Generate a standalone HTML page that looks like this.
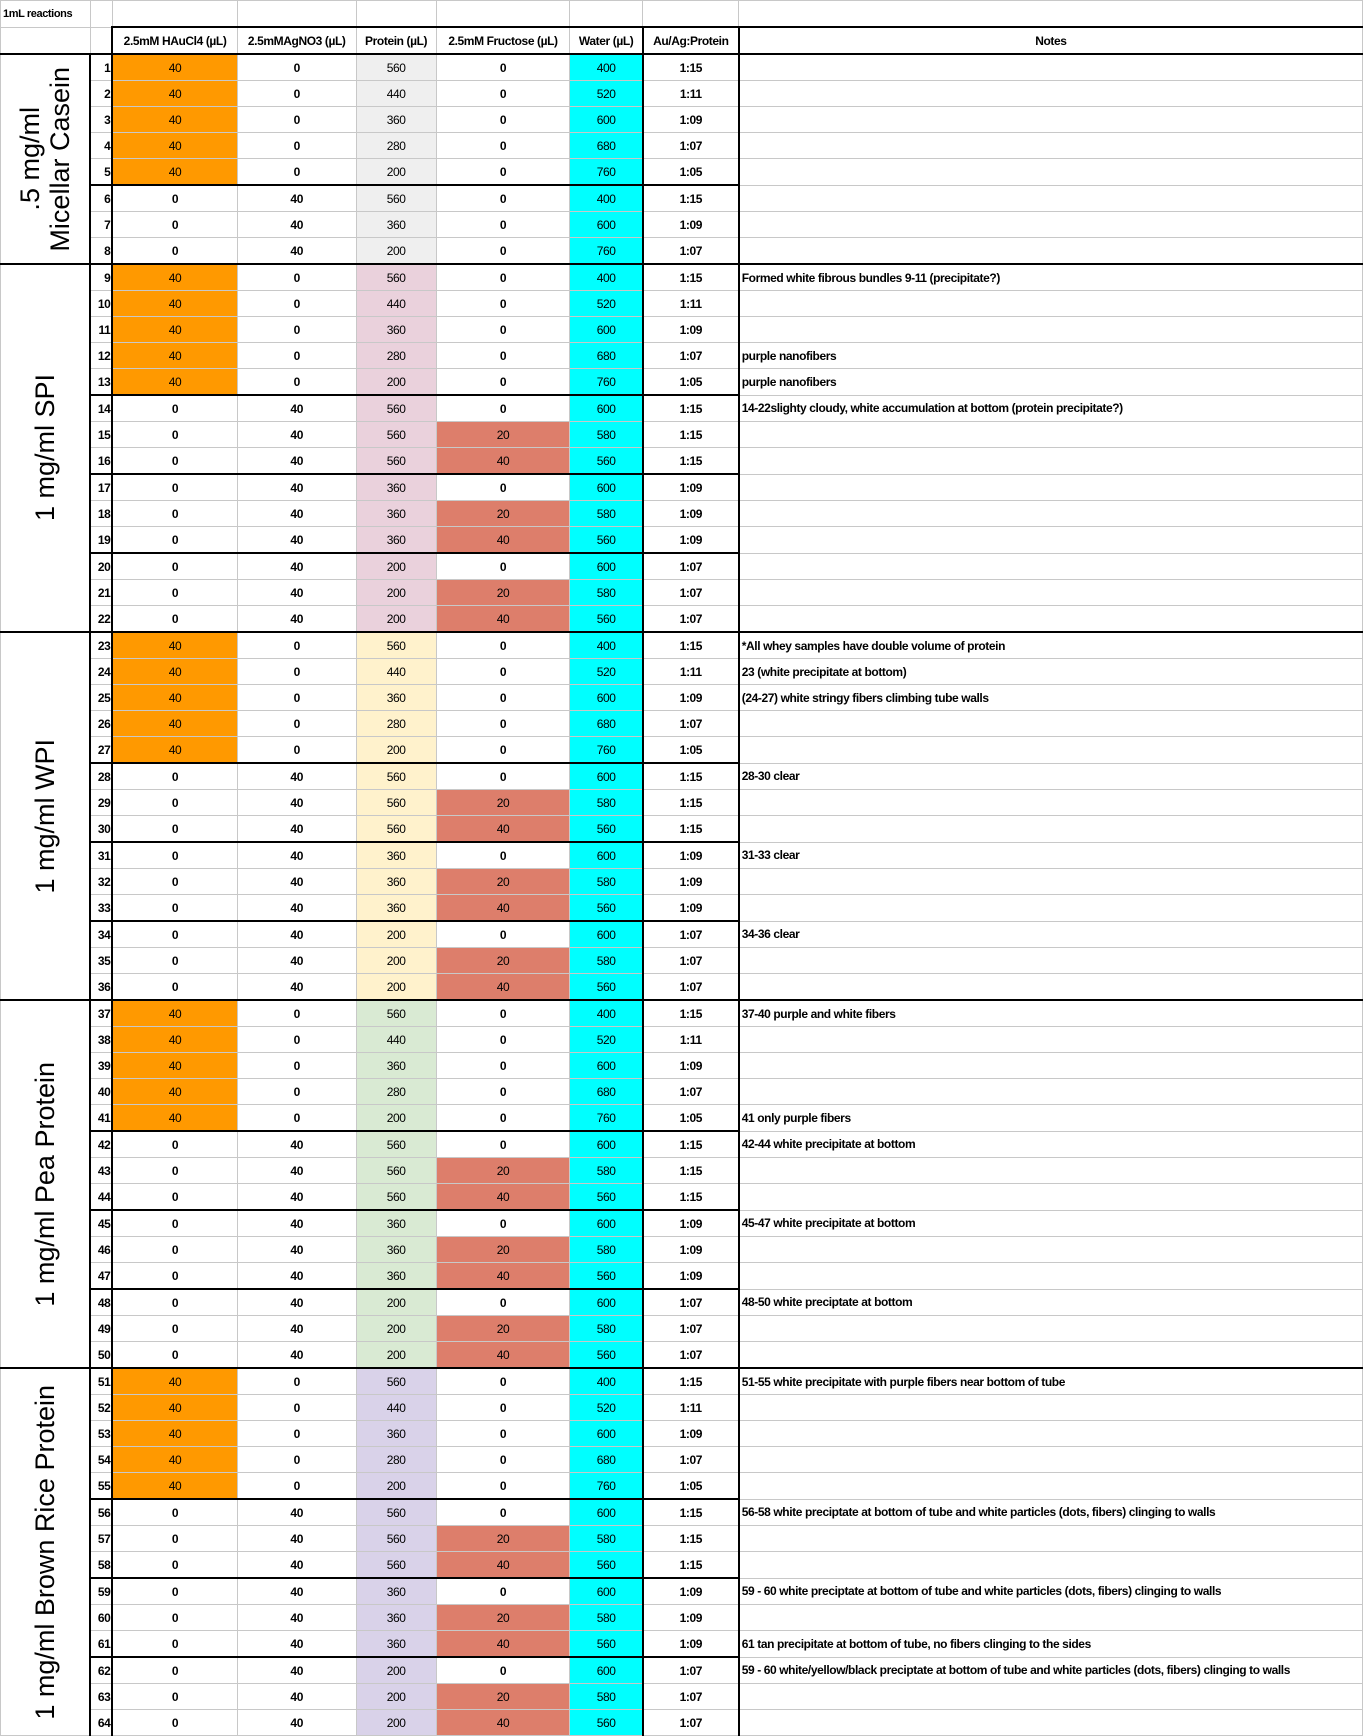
<!DOCTYPE html>
<html><head><meta charset="utf-8"><style>
body{margin:0;background:#fff;width:1363px;height:1718px;overflow:hidden}
table{border-collapse:collapse;table-layout:fixed;font-family:"Liberation Sans",Arial,sans-serif;font-size:12px;font-weight:bold;letter-spacing:-0.4px;color:#000}
td{border:1px solid #c8c8c8;height:25px;padding:0;text-align:center;white-space:nowrap;overflow:hidden}
td.n{text-align:right;padding-right:1px;border-right:2px solid #000}
td.r{border-right:2px solid #000}
td.w{border-right:2px solid #000}
td.t{text-align:left;padding-left:2px}
.o{background:#ff9900;font-weight:normal}
.c{background:#00ffff;font-weight:normal}
.f{background:#dd7e6b;font-weight:normal}
.rg{font-weight:normal}
.p1{background:#efefef;font-weight:normal}.p2{background:#ead1dc;font-weight:normal}.p3{background:#fff2cc;font-weight:normal}.p4{background:#d9ead3;font-weight:normal}.p5{background:#d9d2e9;font-weight:normal}
tr.s td:not(.t):not(.L){border-top:2px solid #000}
tr.g td{border-top:2px solid #000}
td.L{border-right:2px solid #000;vertical-align:middle;font-weight:normal;font-size:27px;letter-spacing:0}
td.L div{writing-mode:vertical-rl;transform:rotate(180deg);margin:auto;line-height:30px;white-space:nowrap}
tr.h td{height:25px}
tr.hd td{border-bottom:2px solid #000}
</style></head><body>
<table>
<colgroup><col style="width:90px"><col style="width:22px"><col style="width:125px"><col style="width:119px"><col style="width:80px"><col style="width:134px"><col style="width:73px"><col style="width:96px"><col style="width:624px"></colgroup>
<tr class="h"><td style="text-align:left;padding-left:2px;font-size:11px">1mL reactions</td><td></td><td></td><td></td><td></td><td></td><td></td><td></td><td></td></tr>
<tr class="h hd"><td></td><td style="border-right:2px solid #000"></td><td style="border-top:2px solid #000">2.5mM HAuCl4 (µL)</td><td style="border-top:2px solid #000">2.5mMAgNO3 (µL)</td><td style="border-top:2px solid #000">Protein (µL)</td><td style="border-top:2px solid #000">2.5mM Fructose (µL)</td><td style="border-top:2px solid #000;border-right:2px solid #000">Water (µL)</td><td style="border-top:2px solid #000;border-right:2px solid #000">Au/Ag:Protein</td><td style="border-top:2px solid #000">Notes</td></tr>

<tr class="g"><td class="L" rowspan="8"><div>.5 mg/ml<br>Micellar Casein</div></td><td class="n">1</td><td class="o">40</td><td>0</td><td class="p1">560</td><td>0</td><td class="c w">400</td><td class="r">1:15</td><td class="t"></td></tr>
<tr><td class="n">2</td><td class="o">40</td><td>0</td><td class="p1">440</td><td>0</td><td class="c w">520</td><td class="r">1:11</td><td class="t"></td></tr>
<tr><td class="n">3</td><td class="o">40</td><td>0</td><td class="p1">360</td><td>0</td><td class="c w">600</td><td class="r">1:09</td><td class="t"></td></tr>
<tr><td class="n">4</td><td class="o">40</td><td>0</td><td class="p1">280</td><td>0</td><td class="c w">680</td><td class="r">1:07</td><td class="t"></td></tr>
<tr><td class="n">5</td><td class="o">40</td><td>0</td><td class="p1">200</td><td>0</td><td class="c w">760</td><td class="r">1:05</td><td class="t"></td></tr>
<tr class="s"><td class="n">6</td><td>0</td><td>40</td><td class="p1">560</td><td>0</td><td class="c w">400</td><td class="r">1:15</td><td class="t"></td></tr>
<tr><td class="n">7</td><td>0</td><td>40</td><td class="p1">360</td><td>0</td><td class="c w">600</td><td class="r">1:09</td><td class="t"></td></tr>
<tr><td class="n">8</td><td>0</td><td>40</td><td class="p1">200</td><td>0</td><td class="c w">760</td><td class="r">1:07</td><td class="t"></td></tr>

<tr class="g"><td class="L" rowspan="14"><div>1 mg/ml SPI</div></td><td class="n">9</td><td class="o">40</td><td>0</td><td class="p2">560</td><td>0</td><td class="c w">400</td><td class="r">1:15</td><td class="t">Formed white fibrous bundles 9-11 (precipitate?)</td></tr>
<tr><td class="n">10</td><td class="o">40</td><td>0</td><td class="p2">440</td><td>0</td><td class="c w">520</td><td class="r">1:11</td><td class="t"></td></tr>
<tr><td class="n">11</td><td class="o">40</td><td>0</td><td class="p2">360</td><td>0</td><td class="c w">600</td><td class="r">1:09</td><td class="t"></td></tr>
<tr><td class="n">12</td><td class="o">40</td><td>0</td><td class="p2">280</td><td>0</td><td class="c w">680</td><td class="r">1:07</td><td class="t">purple nanofibers</td></tr>
<tr><td class="n">13</td><td class="o">40</td><td>0</td><td class="p2">200</td><td>0</td><td class="c w">760</td><td class="r">1:05</td><td class="t">purple nanofibers</td></tr>
<tr class="s"><td class="n">14</td><td>0</td><td>40</td><td class="p2">560</td><td>0</td><td class="c w">600</td><td class="r">1:15</td><td class="t">14-22slighty cloudy, white accumulation at bottom (protein precipitate?)</td></tr>
<tr><td class="n">15</td><td>0</td><td>40</td><td class="p2">560</td><td class="f">20</td><td class="c w">580</td><td class="r">1:15</td><td class="t"></td></tr>
<tr><td class="n">16</td><td>0</td><td>40</td><td class="p2">560</td><td class="f">40</td><td class="c w">560</td><td class="r">1:15</td><td class="t"></td></tr>
<tr class="s"><td class="n">17</td><td>0</td><td>40</td><td class="p2">360</td><td>0</td><td class="c w">600</td><td class="r">1:09</td><td class="t"></td></tr>
<tr><td class="n">18</td><td>0</td><td>40</td><td class="p2">360</td><td class="f">20</td><td class="c w">580</td><td class="r">1:09</td><td class="t"></td></tr>
<tr><td class="n">19</td><td>0</td><td>40</td><td class="p2">360</td><td class="f">40</td><td class="c w">560</td><td class="r">1:09</td><td class="t"></td></tr>
<tr class="s"><td class="n">20</td><td>0</td><td>40</td><td class="p2">200</td><td>0</td><td class="c w">600</td><td class="r">1:07</td><td class="t"></td></tr>
<tr><td class="n">21</td><td>0</td><td>40</td><td class="p2">200</td><td class="f">20</td><td class="c w">580</td><td class="r">1:07</td><td class="t"></td></tr>
<tr><td class="n">22</td><td>0</td><td>40</td><td class="p2">200</td><td class="f">40</td><td class="c w">560</td><td class="r">1:07</td><td class="t"></td></tr>

<tr class="g"><td class="L" rowspan="14"><div>1 mg/ml WPI</div></td><td class="n">23</td><td class="o">40</td><td>0</td><td class="p3">560</td><td>0</td><td class="c w">400</td><td class="r">1:15</td><td class="t">*All whey samples have double volume of protein</td></tr>
<tr><td class="n">24</td><td class="o">40</td><td>0</td><td class="p3">440</td><td>0</td><td class="c w">520</td><td class="r">1:11</td><td class="t">23 (white precipitate at bottom)</td></tr>
<tr><td class="n">25</td><td class="o">40</td><td>0</td><td class="p3">360</td><td>0</td><td class="c w">600</td><td class="r">1:09</td><td class="t">(24-27) white stringy fibers climbing tube walls</td></tr>
<tr><td class="n">26</td><td class="o">40</td><td>0</td><td class="p3">280</td><td>0</td><td class="c w">680</td><td class="r">1:07</td><td class="t"></td></tr>
<tr><td class="n">27</td><td class="o">40</td><td>0</td><td class="p3">200</td><td>0</td><td class="c w">760</td><td class="r">1:05</td><td class="t"></td></tr>
<tr class="s"><td class="n">28</td><td>0</td><td>40</td><td class="p3">560</td><td>0</td><td class="c w">600</td><td class="r">1:15</td><td class="t">28-30 clear</td></tr>
<tr><td class="n">29</td><td>0</td><td>40</td><td class="p3">560</td><td class="f">20</td><td class="c w">580</td><td class="r">1:15</td><td class="t"></td></tr>
<tr><td class="n">30</td><td>0</td><td>40</td><td class="p3">560</td><td class="f">40</td><td class="c w">560</td><td class="r">1:15</td><td class="t"></td></tr>
<tr class="s"><td class="n">31</td><td>0</td><td>40</td><td class="p3">360</td><td>0</td><td class="c w">600</td><td class="r">1:09</td><td class="t">31-33 clear</td></tr>
<tr><td class="n">32</td><td>0</td><td>40</td><td class="p3">360</td><td class="f">20</td><td class="c w">580</td><td class="r">1:09</td><td class="t"></td></tr>
<tr><td class="n">33</td><td>0</td><td>40</td><td class="p3">360</td><td class="f">40</td><td class="c w">560</td><td class="r">1:09</td><td class="t"></td></tr>
<tr class="s"><td class="n">34</td><td>0</td><td>40</td><td class="p3">200</td><td>0</td><td class="c w">600</td><td class="r">1:07</td><td class="t">34-36 clear</td></tr>
<tr><td class="n">35</td><td>0</td><td>40</td><td class="p3">200</td><td class="f">20</td><td class="c w">580</td><td class="r">1:07</td><td class="t"></td></tr>
<tr><td class="n">36</td><td>0</td><td>40</td><td class="p3">200</td><td class="f">40</td><td class="c w">560</td><td class="r">1:07</td><td class="t"></td></tr>

<tr class="g"><td class="L" rowspan="14"><div>1 mg/ml Pea Protein</div></td><td class="n">37</td><td class="o">40</td><td>0</td><td class="p4">560</td><td>0</td><td class="c w">400</td><td class="r">1:15</td><td class="t">37-40 purple and white fibers</td></tr>
<tr><td class="n">38</td><td class="o">40</td><td>0</td><td class="p4">440</td><td>0</td><td class="c w">520</td><td class="r">1:11</td><td class="t"></td></tr>
<tr><td class="n">39</td><td class="o">40</td><td>0</td><td class="p4">360</td><td>0</td><td class="c w">600</td><td class="r">1:09</td><td class="t"></td></tr>
<tr><td class="n">40</td><td class="o">40</td><td>0</td><td class="p4">280</td><td>0</td><td class="c w">680</td><td class="r">1:07</td><td class="t"></td></tr>
<tr><td class="n">41</td><td class="o">40</td><td>0</td><td class="p4">200</td><td>0</td><td class="c w">760</td><td class="r">1:05</td><td class="t">41 only purple fibers</td></tr>
<tr class="s"><td class="n">42</td><td>0</td><td>40</td><td class="p4">560</td><td>0</td><td class="c w">600</td><td class="r">1:15</td><td class="t">42-44 white precipitate at bottom</td></tr>
<tr><td class="n">43</td><td>0</td><td>40</td><td class="p4">560</td><td class="f">20</td><td class="c w">580</td><td class="r">1:15</td><td class="t"></td></tr>
<tr><td class="n">44</td><td>0</td><td>40</td><td class="p4">560</td><td class="f">40</td><td class="c w">560</td><td class="r">1:15</td><td class="t"></td></tr>
<tr class="s"><td class="n">45</td><td>0</td><td>40</td><td class="p4">360</td><td>0</td><td class="c w">600</td><td class="r">1:09</td><td class="t">45-47 white precipitate at bottom</td></tr>
<tr><td class="n">46</td><td>0</td><td>40</td><td class="p4">360</td><td class="f">20</td><td class="c w">580</td><td class="r">1:09</td><td class="t"></td></tr>
<tr><td class="n">47</td><td>0</td><td>40</td><td class="p4">360</td><td class="f">40</td><td class="c w">560</td><td class="r">1:09</td><td class="t"></td></tr>
<tr class="s"><td class="n">48</td><td>0</td><td>40</td><td class="p4">200</td><td>0</td><td class="c w">600</td><td class="r">1:07</td><td class="t">48-50 white preciptate at bottom</td></tr>
<tr><td class="n">49</td><td>0</td><td>40</td><td class="p4">200</td><td class="f">20</td><td class="c w">580</td><td class="r">1:07</td><td class="t"></td></tr>
<tr><td class="n">50</td><td>0</td><td>40</td><td class="p4">200</td><td class="f">40</td><td class="c w">560</td><td class="r">1:07</td><td class="t"></td></tr>

<tr class="g"><td class="L" rowspan="14"><div>1 mg/ml Brown Rice Protein</div></td><td class="n">51</td><td class="o">40</td><td>0</td><td class="p5">560</td><td>0</td><td class="c w">400</td><td class="r">1:15</td><td class="t">51-55 white precipitate with purple fibers near bottom of tube</td></tr>
<tr><td class="n">52</td><td class="o">40</td><td>0</td><td class="p5">440</td><td>0</td><td class="c w">520</td><td class="r">1:11</td><td class="t"></td></tr>
<tr><td class="n">53</td><td class="o">40</td><td>0</td><td class="p5">360</td><td>0</td><td class="c w">600</td><td class="r">1:09</td><td class="t"></td></tr>
<tr><td class="n">54</td><td class="o">40</td><td>0</td><td class="p5">280</td><td>0</td><td class="c w">680</td><td class="r">1:07</td><td class="t"></td></tr>
<tr><td class="n">55</td><td class="o">40</td><td>0</td><td class="p5">200</td><td>0</td><td class="c w">760</td><td class="r">1:05</td><td class="t"></td></tr>
<tr class="s"><td class="n">56</td><td>0</td><td>40</td><td class="p5">560</td><td>0</td><td class="c w">600</td><td class="r">1:15</td><td class="t">56-58 white preciptate at bottom of tube and white particles (dots, fibers) clinging to walls</td></tr>
<tr><td class="n">57</td><td>0</td><td>40</td><td class="p5">560</td><td class="f">20</td><td class="c w">580</td><td class="r">1:15</td><td class="t"></td></tr>
<tr><td class="n">58</td><td>0</td><td>40</td><td class="p5">560</td><td class="f">40</td><td class="c w">560</td><td class="r">1:15</td><td class="t"></td></tr>
<tr class="s"><td class="n">59</td><td>0</td><td>40</td><td class="p5">360</td><td>0</td><td class="c w">600</td><td class="r">1:09</td><td class="t">59 - 60 white preciptate at bottom of tube and white particles (dots, fibers) clinging to walls</td></tr>
<tr><td class="n">60</td><td>0</td><td>40</td><td class="p5">360</td><td class="f">20</td><td class="c w">580</td><td class="r">1:09</td><td class="t"></td></tr>
<tr><td class="n">61</td><td>0</td><td>40</td><td class="p5">360</td><td class="f">40</td><td class="c w">560</td><td class="r">1:09</td><td class="t">61 tan precipitate at bottom of tube, no fibers clinging to the sides</td></tr>
<tr class="s"><td class="n">62</td><td>0</td><td>40</td><td class="p5">200</td><td>0</td><td class="c w">600</td><td class="r">1:07</td><td class="t">59 - 60 white/yellow/black preciptate at bottom of tube and white particles (dots, fibers) clinging to walls</td></tr>
<tr><td class="n">63</td><td>0</td><td>40</td><td class="p5">200</td><td class="f">20</td><td class="c w">580</td><td class="r">1:07</td><td class="t"></td></tr>
<tr><td class="n">64</td><td>0</td><td>40</td><td class="p5">200</td><td class="f">40</td><td class="c w">560</td><td class="r">1:07</td><td class="t"></td></tr>
</table>
</body></html>
